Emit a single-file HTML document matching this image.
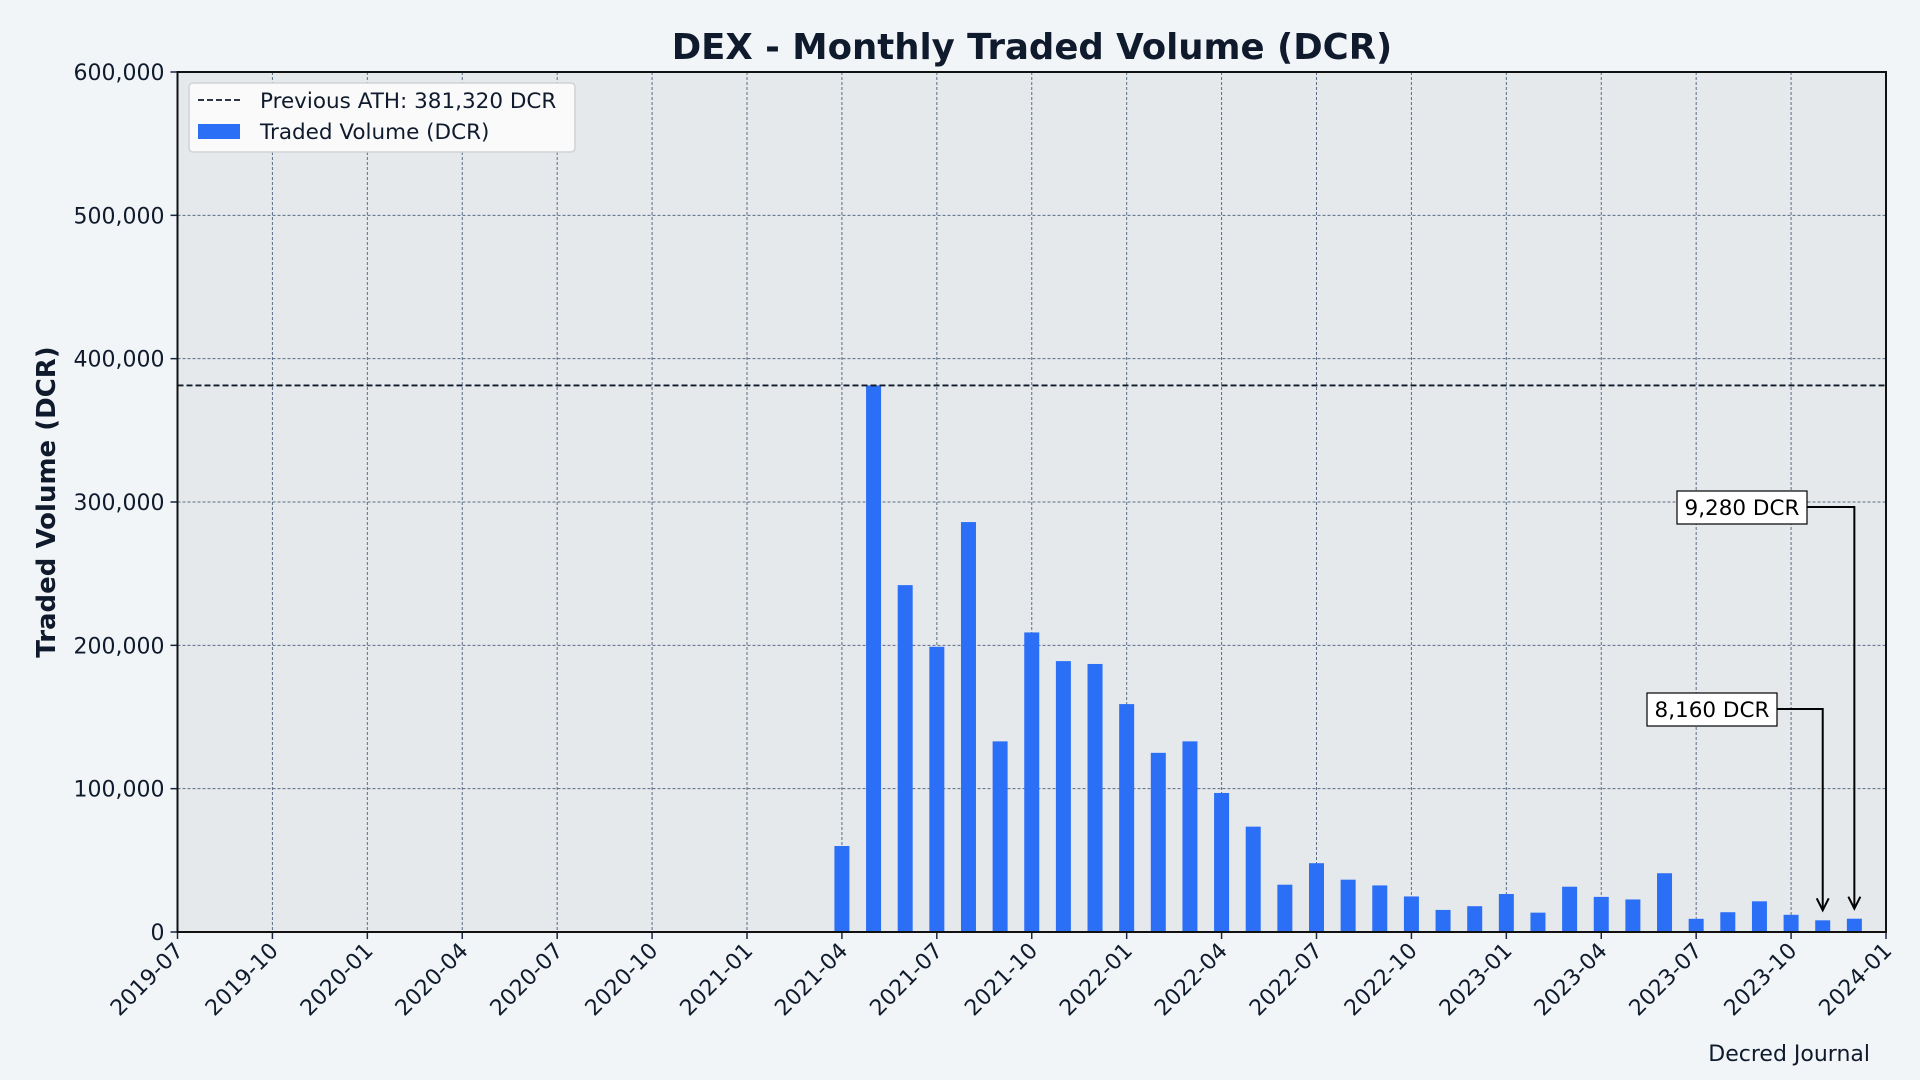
<!DOCTYPE html>
<html><head><meta charset="utf-8"><style>
html,body{margin:0;padding:0;background:#f2f5f7;}
svg{display:block;font-family:"DejaVu Sans","Liberation Sans",sans-serif;}
</style></head><body>
<svg id="chart" width="1920" height="1080" viewBox="0 0 1920 1080">
<rect width="1920" height="1080" fill="#f2f5f7"/>
<text x="1032" y="59" text-anchor="middle" font-size="35.5" font-weight="bold" fill="#0f1b2d">DEX - Monthly Traded Volume (DCR)</text>
<text transform="translate(55,502) rotate(-90)" text-anchor="middle" font-size="26" font-weight="bold" fill="#0f1b2d">Traded Volume (DCR)</text>
<text x="1870" y="1061" text-anchor="end" font-size="22" fill="#0f1b2d">Decred Journal</text>
<g id="plot"></g>
</svg>
<script>
const months = ["2021-04","2021-05","2021-06","2021-07","2021-08","2021-09","2021-10","2021-11","2021-12","2022-01","2022-02","2022-03","2022-04","2022-05","2022-06","2022-07","2022-08","2022-09","2022-10","2022-11","2022-12","2023-01","2023-02","2023-03","2023-04","2023-05","2023-06","2023-07","2023-08","2023-09","2023-10","2023-11","2023-12"];
const volumes = [60000,381320,242000,199000,286000,133000,209000,189000,187000,159000,125000,133000,97000,73500,33000,48000,36500,32500,24800,15400,18000,26500,13500,31600,24500,22700,41000,9200,13800,21400,12000,8160,9280];
const yTicks = [0,100000,200000,300000,400000,500000,600000];
const xTickLabels = ["2019-07","2019-10","2020-01","2020-04","2020-07","2020-10","2021-01","2021-04","2021-07","2021-10","2022-01","2022-04","2022-07","2022-10","2023-01","2023-04","2023-07","2023-10","2024-01"];
const athValue = 381320;

const NS="http://www.w3.org/2000/svg";
const X0=177.5,X1=1886,Y0=932,Y1=72;
const mIdx=s=>{const [y,m]=s.split("-").map(Number);return (y-2019)*12+(m-7);};
const xs=s=>X0+(X1-X0)*mIdx(s)/54;
const ys=v=>Y0-(Y0-Y1)*v/600000;
const g=document.getElementById("plot");
function el(t,a,p){const e=document.createElementNS(NS,t);for(const k in a)e.setAttribute(k,a[k]);(p||g).appendChild(e);return e;}

let r=el("rect",{x:X0,y:Y1,width:X1-X0,height:Y0-Y1,fill:"#e6e9ec"});



yTicks.forEach(v=>{
  const y=ys(v);
  let l=el("line",{x1:X0,x2:X1,y1:y,y2:y,stroke:"#5b6b86","stroke-width":1,"stroke-dasharray":"3,2"});
  
  
  el("line",{x1:X0-7,x2:X0,y1:y,y2:y,stroke:"#1a2740","stroke-width":1.5});
  let t=el("text",{x:X0-13,y:y+8,"text-anchor":"end","font-size":22,fill:"#0f1b2d"});
  t.textContent=v.toLocaleString("en-US");
  
  
});
xTickLabels.forEach(s=>{
  const x=xs(s);
  let l=el("line",{x1:x,x2:x,y1:Y1,y2:Y0,stroke:"#5b6b86","stroke-width":1,"stroke-dasharray":"3,2"});
  
  
  el("line",{x1:x,x2:x,y1:Y0,y2:Y0+7,stroke:"#1a2740","stroke-width":1.5});
  let t=el("text",{transform:`translate(${x+7},${Y0+20}) rotate(-45)`,"text-anchor":"end","font-size":22,fill:"#0f1b2d"});
  t.textContent=s;
  
  
});
const bw=15;
months.forEach((m,i)=>{
  const x=xs(m),y=ys(volumes[i]);
  let b=el("rect",{x:x-bw/2,y:y,width:bw,height:Y0-y,fill:"#2b6ff7"});
  
  
});
let ath=el("line",{x1:X0,x2:X1,y1:ys(athValue),y2:ys(athValue),stroke:"#0f1b2d","stroke-width":1.8,"stroke-dasharray":"6,3"});


el("rect",{x:X0,y:Y1,width:X1-X0,height:Y0-Y1,fill:"none",stroke:"#111","stroke-width":2});

function annot(m,v,bx,by,label,name){
  const x=xs(m),yb=ys(v);
  el("polyline",{points:`${bx+130},${by+16} ${x},${by+16} ${x},${yb-10}`,fill:"none",stroke:"#000","stroke-width":2});
  el("polyline",{points:`${x-6},${yb-22} ${x},${yb-10} ${x+6},${yb-22}`,fill:"none",stroke:"#000","stroke-width":2});
  let b=el("rect",{x:bx,y:by,width:130,height:33,fill:"#fff",stroke:"#000","stroke-width":1.2});
  
  
  let t=el("text",{x:bx+65,y:by+24,"text-anchor":"middle","font-size":21.5,fill:"#000"});
  t.textContent=label;
  
  
}
annot("2023-12",volumes[32],1677,491,volumes[32].toLocaleString("en-US")+" DCR","annotation-dec");
annot("2023-11",volumes[31],1647,693,volumes[31].toLocaleString("en-US")+" DCR","annotation-nov");

const lg=el("g",{});


el("rect",{x:189,y:83,width:386,height:69,rx:4,fill:"#fafafa",stroke:"#d0d3d6","stroke-width":1.5},lg);
el("line",{x1:198,x2:240,y1:100,y2:100,stroke:"#0f1b2d","stroke-width":1.8,"stroke-dasharray":"6,3"},lg);
let t1=el("text",{x:260,y:108,"font-size":21.5,fill:"#0f1b2d"},lg);
t1.textContent="Previous ATH: "+athValue.toLocaleString("en-US")+" DCR";


el("rect",{x:198,y:124,width:42,height:15,fill:"#2b6ff7"},lg);
let t2=el("text",{x:260,y:139,"font-size":21.5,fill:"#0f1b2d"},lg);
t2.textContent="Traded Volume (DCR)";


</script>
</body></html>
